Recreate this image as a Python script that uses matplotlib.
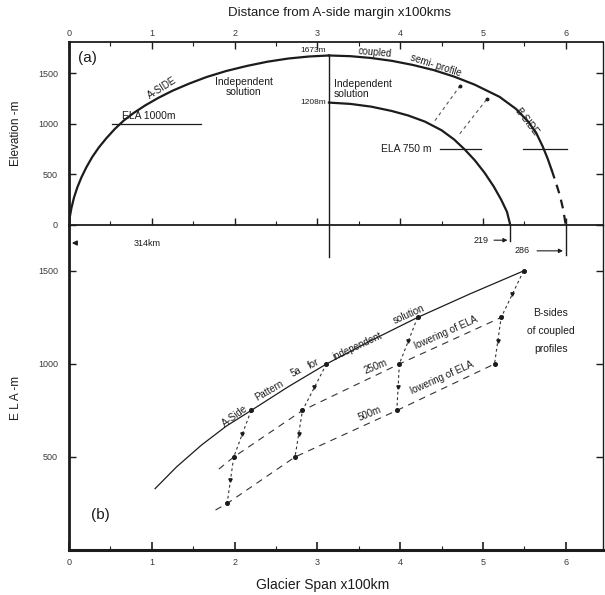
import matplotlib
matplotlib.use("Agg")
import matplotlib.pyplot as plt
from matplotlib.ticker import MultipleLocator

plt.rcParams['font.family'] = ['Liberation Sans', 'DejaVu Sans']
INK = '#1c1c1c'
GREY = '#3a3a3a'

# ---------------- (a) ice-surface profiles ----------------
# distance from A-side margin (x100 km) and surface elevation (m)
a_side_x = [0.0, 0.01, 0.03, 0.06, 0.10, 0.15, 0.21, 0.28, 0.36, 0.45, 0.55, 0.66,
            0.78, 0.92, 1.08, 1.25, 1.45, 1.66, 1.90, 2.15, 2.40, 2.65, 2.90, 3.14]
a_side_z = [0, 80, 170, 270, 370, 470, 570, 670, 765, 855, 945, 1030,
            1105, 1180, 1255, 1325, 1395, 1460, 1520, 1570, 1612, 1643, 1663, 1673]

b_coupled_x = [3.14, 3.40, 3.65, 3.90, 4.15, 4.40, 4.65, 4.90, 5.20, 5.40, 5.55,
               5.65, 5.72, 5.78, 5.83]
b_coupled_z = [1673, 1666, 1648, 1620, 1580, 1530, 1465, 1385, 1265, 1145, 1017,
               897, 778, 658, 543]
b_coupled_tail_x = [5.83, 5.88, 5.93, 5.97, 6.00]
b_coupled_tail_z = [543, 420, 290, 150, 0]

b_indep_x = [3.14, 3.40, 3.65, 3.90, 4.10, 4.30, 4.50, 4.65, 4.78, 4.90, 5.02,
             5.13, 5.22, 5.29, 5.33]
b_indep_z = [1208, 1195, 1168, 1125, 1080, 1020, 935, 845, 745, 640, 515,
             380, 250, 130, 0]

divide_x = 3.14
summit_coupled = 1673
summit_indep = 1208
span_a_km = 314
span_b_indep_km = 219
span_b_coupled_km = 286

ela_a = 1000
ela_b = 750

# shift of the B-side profile from independent to coupled solution
shift_start_x = [4.42, 4.72]
shift_start_z = [1030, 900]
shift_end_x = [4.72, 5.05]
shift_end_z = [1370, 1245]

# ---------------- (b) ELA against glacier span ----------------
pattern_curve_span = [1.04, 1.30, 1.60, 1.90, 2.20, 2.65, 3.11, 3.60, 4.21, 4.85, 5.49]
pattern_curve_ela = [330, 447, 564, 666, 750, 878, 1000, 1115, 1250, 1378, 1500]

pattern_span = [2.20, 3.11, 4.21, 5.49]
pattern_ela = [750, 1000, 1250, 1500]
lower250_span = [1.99, 2.82, 3.99, 5.22]
lower250_ela = [500, 750, 1000, 1250]
lower500_span = [1.91, 2.73, 3.96, 5.14]
lower500_ela = [250, 500, 750, 1000]

lower250_line_span = [1.81] + lower250_span + [5.30]
lower250_line_ela = [435] + lower250_ela + [1275]
lower500_line_span = [1.77] + lower500_span
lower500_line_ela = [215] + lower500_ela

x_ticks = [0, 1, 2, 3, 4, 5, 6]
elev_ticks = [0, 500, 1000, 1500]
ela_ticks = [500, 1000, 1500]

W, H = 605, 595


def box(left, top, right, bottom):
    return [left / W, 1 - bottom / H, (right - left) / W, (bottom - top) / H]


fig = plt.figure(figsize=(W / 100, H / 100), dpi=100)
fig.patch.set_facecolor('white')

ax_a = fig.add_axes(box(69, 42, 603, 225))
ax_b = fig.add_axes(box(69, 225, 603, 550))

for ax in (ax_a, ax_b):
    ax.set_facecolor('none')
    ax.set_xlim(0, 6.45)
    for s in ax.spines.values():
        s.set_color(INK)
ax_a.set_ylim(0, 1806)
ax_b.set_ylim(0, 1747)

# spines
ax_a.spines['left'].set_linewidth(2.0)
ax_a.spines['top'].set_linewidth(1.3)
ax_a.spines['right'].set_linewidth(1.0)
ax_a.spines['bottom'].set_linewidth(1.3)
ax_b.spines['left'].set_linewidth(2.0)
ax_b.spines['bottom'].set_linewidth(2.2)
ax_b.spines['right'].set_linewidth(1.0)
ax_b.spines['top'].set_visible(False)

# ticks of (a)
ax_a.set_xticks(x_ticks)
ax_a.xaxis.set_minor_locator(MultipleLocator(0.5))
ax_a.tick_params(axis='x', which='both', direction='in', top=True, bottom=True,
                 labeltop=True, labelbottom=False, colors=INK, labelcolor=GREY,
                 labelsize=6.5, pad=3)
ax_a.tick_params(axis='x', which='major', length=5, width=1.0)
ax_a.tick_params(axis='x', which='minor', length=3, width=0.8)
ax_a.set_yticks(elev_ticks)
ax_a.tick_params(axis='y', direction='in', left=True, right=True, length=5, width=1.0,
                 colors=INK, labelcolor=GREY, labelsize=6.5, pad=8)

# ticks of (b)
ax_b.set_xticks(x_ticks)
ax_b.xaxis.set_minor_locator(MultipleLocator(0.5))
ax_b.tick_params(axis='x', which='both', direction='in', top=False, bottom=True,
                 colors=INK, labelcolor=GREY, labelsize=6.5, pad=6)
ax_b.tick_params(axis='x', which='major', length=6, width=1.2)
ax_b.tick_params(axis='x', which='minor', length=3, width=0.8)
ax_b.set_yticks(ela_ticks)
ax_b.tick_params(axis='y', direction='in', left=True, right=True, length=5, width=1.0,
                 colors=INK, labelcolor=GREY, labelsize=6.5, pad=8)

# axis titles
fig.text(340 / W, 1 - 13 / H, 'Distance from A-side margin x100kms', ha='center',
         va='center', fontsize=9.5, color=INK)
fig.text(323 / W, 1 - 585 / H, 'Glacier Span x100km', ha='center', va='center',
         fontsize=10, color=INK)
fig.text(16 / W, 1 - 133 / H, 'Elevation -m', rotation=90, ha='center', va='center',
         fontsize=8.5, color=INK)
fig.text(16 / W, 1 - 398 / H, 'E L A -m', rotation=90, ha='center', va='center',
         fontsize=8.5, color=INK)

# ---------------- draw (a) ----------------
lw_prof = 1.6
ax_a.plot(a_side_x, a_side_z, color=INK, lw=lw_prof, solid_joinstyle='round')
ax_a.plot(b_coupled_x, b_coupled_z, color=INK, lw=lw_prof, solid_joinstyle='round')
ax_a.plot(b_coupled_tail_x, b_coupled_tail_z, color=INK, lw=lw_prof, ls=(0, (4, 3)))
ax_a.plot(b_indep_x, b_indep_z, color=INK, lw=lw_prof, solid_joinstyle='round')

# ice divide
ax_a.plot([divide_x, divide_x], [summit_coupled, -320], color=INK, lw=1.0, clip_on=False)

# equilibrium lines
ax_a.plot([0.52, 1.60], [ela_a, ela_a], color=INK, lw=0.9)
ax_a.plot([4.48, 4.98], [ela_b, ela_b], color=INK, lw=0.9)
ax_a.plot([5.48, 6.01], [ela_b, ela_b], color=INK, lw=0.9)
ax_a.text(0.64, ela_a + 25, 'ELA %dm' % ela_a, fontsize=7.5, color=INK, ha='left',
          va='bottom')
ax_a.text(4.38, ela_b, 'ELA %d m' % ela_b, fontsize=7.5, color=INK, ha='right',
          va='center')

# shift arrows
for x0, z0, x1, z1 in zip(shift_start_x, shift_start_z, shift_end_x, shift_end_z):
    ax_a.plot([x0, x1], [z0, z1], color='#555555', lw=0.8, ls=(0, (3, 3)))
    ax_a.plot([x1], [z1], marker='o', ms=1.8, color=INK)

# labels
ax_a.text(0.22, 1648, '(a)', fontsize=11, color=INK, ha='center', va='center')
ax_a.text(3.10, summit_coupled + 10, '%dm' % summit_coupled, fontsize=6, color=INK,
          ha='right', va='bottom')
ax_a.text(3.10, summit_indep, '%dm' % summit_indep, fontsize=6, color=INK,
          ha='right', va='center')
ax_a.text(1.13, 1355, 'A-SIDE', fontsize=7, color=INK, rotation=32, ha='center',
          va='center')
ax_a.text(2.11, 1362, 'Independent\nsolution', fontsize=7.5, color=INK, ha='center',
          va='center', linespacing=1.0)
ax_a.text(3.20, 1342, 'Independent\nsolution', fontsize=7.5, color=INK, ha='left',
          va='center', linespacing=1.0)
ax_a.text(3.70, 1705, 'coupled', fontsize=7, color=INK, rotation=-5, ha='center',
          va='center')
ax_a.text(4.43, 1570, 'semi- profile', fontsize=7, color=INK, rotation=-18, ha='center',
          va='center')
ax_a.text(5.53, 1017, 'B-SIDE', fontsize=7, color=INK, rotation=-52, ha='center',
          va='center')

# spans below the base line
ax_a.annotate('', xy=(0.0, -178), xytext=(0.12, -178),
              arrowprops=dict(arrowstyle='-|>', color=INK, lw=1.0, mutation_scale=7),
              annotation_clip=False)
ax_a.text(0.95, -178, '%dkm' % span_a_km, fontsize=6.5, color=INK, ha='center',
          va='center')

end_indep = divide_x + span_b_indep_km / 100
end_coupled = divide_x + span_b_coupled_km / 100
ax_a.plot([end_indep, end_indep], [0, -160], color=INK, lw=1.0, clip_on=False)
ax_a.plot([end_coupled, end_coupled], [0, -300], color=INK, lw=1.0, clip_on=False)
ax_a.text(5.07, -150, '%d' % span_b_indep_km, fontsize=6.5, color=INK, ha='right',
          va='center')
ax_a.annotate('', xy=(end_indep, -150), xytext=(5.10, -150),
              arrowprops=dict(arrowstyle='-|>', color=INK, lw=0.8, mutation_scale=6),
              annotation_clip=False)
ax_a.text(5.57, -255, '%d' % span_b_coupled_km, fontsize=6.5, color=INK, ha='right',
          va='center')
ax_a.annotate('', xy=(end_coupled, -255), xytext=(5.62, -255),
              arrowprops=dict(arrowstyle='-|>', color=INK, lw=0.8, mutation_scale=6),
              annotation_clip=False)

# ---------------- draw (b) ----------------
ax_b.plot(pattern_curve_span, pattern_curve_ela, color=INK, lw=0.9,
          solid_joinstyle='round')
ax_b.plot(lower250_line_span, lower250_line_ela, color='#333333', lw=0.8, ls=(0, (6, 5)))
ax_b.plot(lower500_line_span, lower500_line_ela, color='#333333', lw=0.8, ls=(0, (6, 5)))

for chain in zip(pattern_span, pattern_ela, lower250_span, lower250_ela,
                 lower500_span, lower500_ela):
    xs = [chain[0], chain[2], chain[4]]
    ys = [chain[1], chain[3], chain[5]]
    ax_b.plot(xs, ys, color='#333333', lw=0.8, ls=(0, (2.5, 2.5)))
    for i in range(2):
        ax_b.plot([(xs[i] + xs[i + 1]) / 2], [(ys[i] + ys[i + 1]) / 2], marker='v',
                  ms=2.4, color=INK, ls='none')

ax_b.plot(pattern_span, pattern_ela, 'o', ms=2.6, color=INK)
ax_b.plot(lower250_span, lower250_ela, 'o', ms=2.6, color=INK)
ax_b.plot(lower500_span, lower500_ela, 'o', ms=2.6, color=INK)

ax_b.text(0.38, 188, '(b)', fontsize=11, color=INK, ha='center', va='center')
tk = dict(fontsize=7, color=INK, ha='center', va='center')
ax_b.text(2.00, 720, 'A-Side', rotation=36, **tk)
ax_b.text(2.42, 855, 'Pattern', rotation=30, **tk)
ax_b.text(2.74, 955, '5a', rotation=27, **tk)
ax_b.text(2.95, 1000, 'for', rotation=26, **tk)
ax_b.text(3.48, 1095, 'independent', rotation=25, **tk)
ax_b.text(4.10, 1265, 'solution', rotation=24, **tk)
ax_b.text(3.70, 985, '250m', rotation=22, **tk)
ax_b.text(3.63, 735, '500m', rotation=22, **tk)
ax_b.text(4.56, 1167, 'lowering of ELA', rotation=24, **tk)
ax_b.text(4.50, 925, 'lowering of ELA', rotation=24, **tk)
ax_b.text(5.82, 1177, 'B-sides\nof coupled\nprofiles', fontsize=7.5, color=INK,
          ha='center', va='center', linespacing=2.0)

fig.savefig('out.png', dpi=100, facecolor='white')
